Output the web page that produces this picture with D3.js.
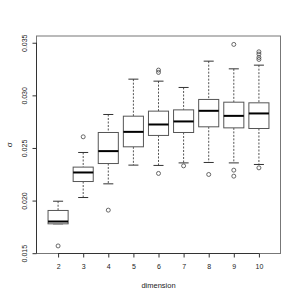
<!DOCTYPE html>
<html>
<head>
<meta charset="utf-8">
<script src="https://cdn.jsdelivr.net/npm/d3@7"></script>
<style>
  body { margin: 0; background: #fff; }
  text { font-family: "Liberation Sans", Arial, sans-serif; }
</style>
</head>
<body>
<svg id="chart" width="300" height="300"></svg>
<script>
// box statistics, one entry per dimension
var dims = [2, 3, 4, 5, 6, 7, 8, 9, 10];
var loWhisker = [0.01779, 0.02029, 0.02159, 0.02337, 0.02334, 0.02358, 0.02362, 0.02358, 0.02343];
var q1 = [0.01779, 0.02181, 0.02352, 0.02511, 0.02619, 0.02647, 0.02701, 0.02691, 0.02685];
var medians = [0.01801, 0.02267, 0.02470, 0.02653, 0.02723, 0.02752, 0.02853, 0.02805, 0.02828];
var q3 = [0.01906, 0.02318, 0.02647, 0.02802, 0.02850, 0.02862, 0.02961, 0.02935, 0.02929];
var hiWhisker = [0.01994, 0.02457, 0.02818, 0.03154, 0.03135, 0.03075, 0.03325, 0.03252, 0.03287];
var outliers = [
  [0.01569],
  [0.02606],
  [0.01909],
  [],
  [0.03240, 0.03218, 0.02258],
  [0.02330],
  [0.02248],
  [0.03484, 0.02289, 0.02232],
  [0.03414, 0.03392, 0.03360, 0.03341, 0.02311]
];
var yTicks = [0.015, 0.020, 0.025, 0.030, 0.035];

var svg = d3.select("#chart"),
    margin = {top: 36, left: 36.5, bottom: 46.5, right: 19.5},
    width = +svg.attr("width"),
    height = +svg.attr("height");

var x = d3.scaleLinear()
    .domain([1.14, 10.86])
    .range([margin.left, width - margin.right]);

var y = d3.scaleLinear()
    .domain([0.01497, 0.03564])
    .range([height - margin.bottom, margin.top]);

var boxW = (x(3) - x(2)) * 0.8;
var ink = "#333";

// plot frame
svg.append("rect")
    .attr("x", margin.left).attr("y", margin.top)
    .attr("width", width - margin.right - margin.left)
    .attr("height", height - margin.bottom - margin.top)
    .attr("fill", "none").attr("stroke", "#777").attr("stroke-width", 1);

// x axis
var xAxis = svg.append("g")
    .attr("transform", `translate(0,${height - margin.bottom})`)
    .call(d3.axisBottom(x).tickValues(dims).tickSize(4).tickPadding(7).tickSizeOuter(0));
xAxis.select(".domain").attr("d", `M${x(2)},0H${x(10)}`).attr("stroke", ink);
xAxis.selectAll(".tick line").attr("stroke", ink);
xAxis.selectAll("text").attr("font-size", 7).attr("fill", "#222");

// y axis, labels rotated like R
var yAxis = svg.append("g")
    .attr("transform", `translate(${margin.left},0)`)
    .call(d3.axisLeft(y).tickValues(yTicks).tickFormat(d3.format(".3f")).tickSize(4).tickSizeOuter(0));
yAxis.select(".domain").attr("d", `M0,${y(0.015)}V${y(0.035)}`).attr("stroke", ink);
yAxis.selectAll(".tick line").attr("stroke", ink);
yAxis.selectAll(".tick text")
    .attr("x", 0).attr("dy", 0)
    .attr("transform", "translate(-12,0) rotate(-90)")
    .attr("text-anchor", "middle")
    .attr("dominant-baseline", "central")
    .attr("font-size", 7).attr("fill", "#222");

// axis titles
svg.append("text")
    .attr("x", (margin.left + width - margin.right) / 2)
    .attr("y", 288)
    .attr("text-anchor", "middle")
    .attr("font-size", 7.5).attr("fill", "#222")
    .text("dimension");

svg.append("text")
    .attr("transform", `translate(9,${(margin.top + height - margin.bottom) / 2}) rotate(-90)`)
    .attr("text-anchor", "middle")
    .attr("dominant-baseline", "central")
    .attr("font-size", 8).attr("fill", "#222")
    .text("σ");

// boxes
var boxes = svg.selectAll("g.box")
    .data(dims.map((d, i) => ({dim: d, lo: loWhisker[i], q1: q1[i], med: medians[i], q3: q3[i], hi: hiWhisker[i], out: outliers[i]})))
    .enter().append("g").classed("box", true);

// dashed whiskers
boxes.append("line")
    .attr("x1", d => x(d.dim)).attr("x2", d => x(d.dim))
    .attr("y1", d => y(d.hi)).attr("y2", d => y(d.q3))
    .attr("stroke", "#555").attr("stroke-dasharray", "2,1.5");
boxes.append("line")
    .attr("x1", d => x(d.dim)).attr("x2", d => x(d.dim))
    .attr("y1", d => y(d.q1)).attr("y2", d => y(d.lo))
    .attr("stroke", "#555").attr("stroke-dasharray", "2,1.5");

// whisker caps
[["hi"], ["lo"]].forEach(function(k) {
    boxes.append("line")
        .attr("x1", d => x(d.dim) - boxW / 4).attr("x2", d => x(d.dim) + boxW / 4)
        .attr("y1", d => y(d[k[0]])).attr("y2", d => y(d[k[0]]))
        .attr("stroke", ink);
});

boxes.append("rect")
    .attr("x", d => x(d.dim) - boxW / 2)
    .attr("width", boxW)
    .attr("y", d => y(d.q3))
    .attr("height", d => y(d.q1) - y(d.q3))
    .attr("fill", "#fff").attr("stroke", "#555");

boxes.append("line")
    .attr("x1", d => x(d.dim) - boxW / 2).attr("x2", d => x(d.dim) + boxW / 2)
    .attr("y1", d => y(d.med)).attr("y2", d => y(d.med))
    .attr("stroke", "#000").attr("stroke-width", 2);

// outliers
boxes.selectAll("circle")
    .data(d => d.out.map(v => ({dim: d.dim, v: v})))
    .enter().append("circle")
    .attr("cx", d => x(d.dim)).attr("cy", d => y(d.v))
    .attr("r", 2).attr("fill", "none").attr("stroke", "#444").attr("stroke-width", 0.8);
</script>
</body>
</html>
